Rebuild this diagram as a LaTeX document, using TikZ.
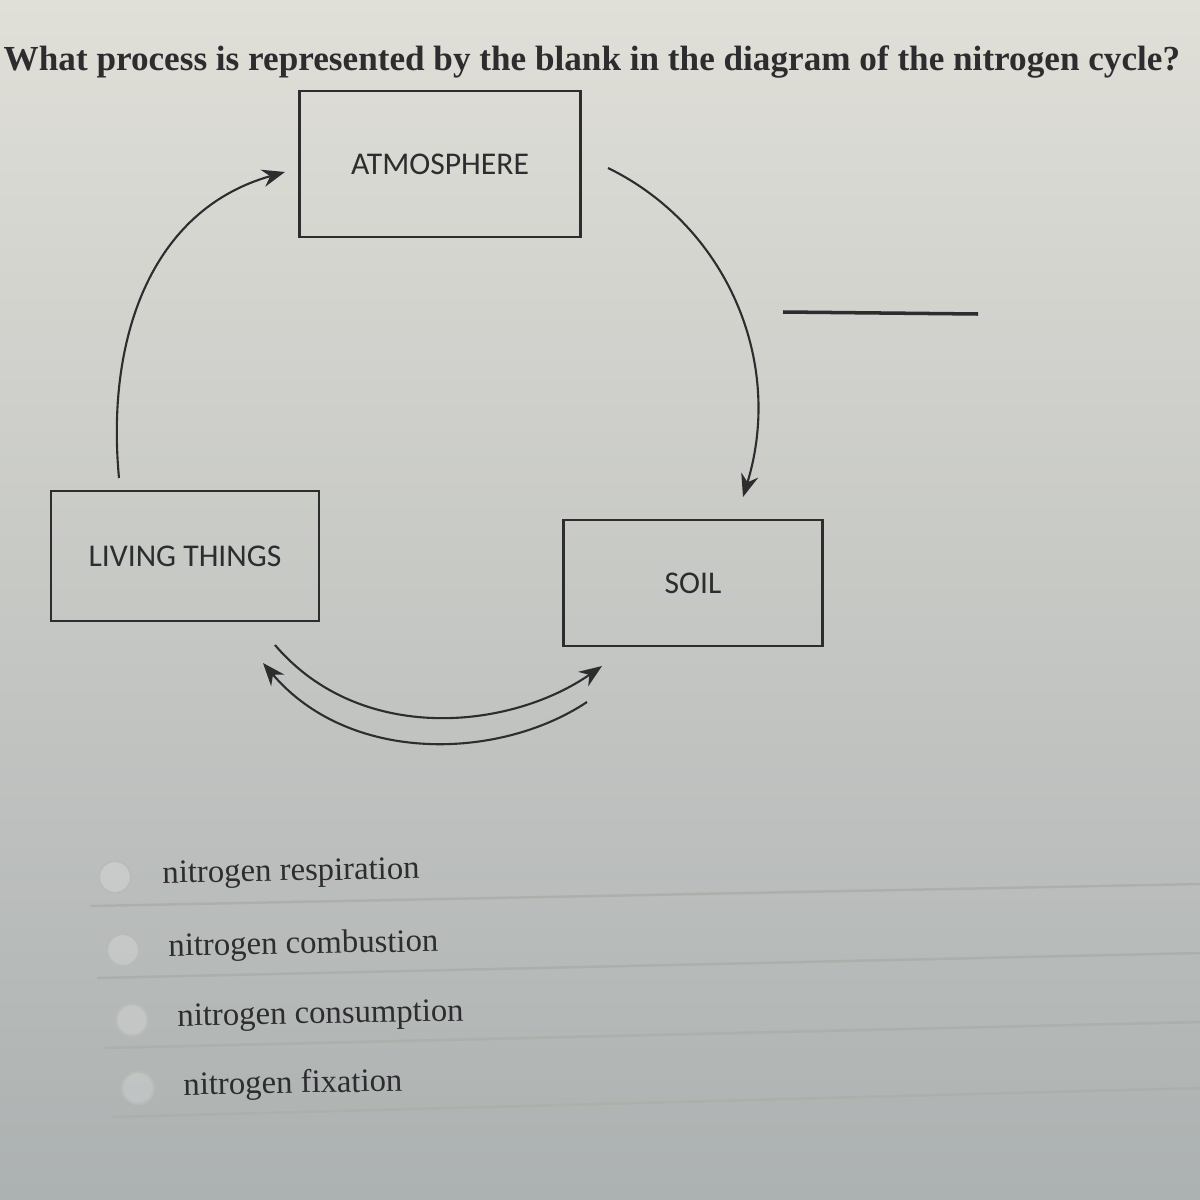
\documentclass[tikz,border=0pt]{standalone}
\usepackage{fontspec}
\setmainfont{Liberation Serif}
\newfontfamily\boxfont{Carlito}
\usetikzlibrary{arrows.meta}

\definecolor{bgtop}{RGB}{224,223,216}
\definecolor{bgmid}{RGB}{214,218,210}
\definecolor{bgbot}{RGB}{172,177,177}
\definecolor{ink}{RGB}{45,45,48}
\definecolor{rulegray}{RGB}{172,175,170}

\begin{document}
\begin{tikzpicture}[x=0.01cm, y=-0.01cm, >={Stealth[length=6.5pt,width=5pt]},
    cyclebox/.style={draw=ink, line width=0.8pt, rectangle, inner sep=0pt,
      font=\boxfont\fontsize{9}{11}\selectfont, text=ink},
    flow/.style={->, draw=ink, line width=0.6pt},
    choice/.style={anchor=base west, inner sep=0pt, rotate=1,
      font=\fontsize{9.3}{11}\selectfont, text=ink},
    radio/.style={circle, draw=rulegray!85, fill=white, fill opacity=0.2,
      line width=0.6pt, minimum size=0.32cm, inner sep=0pt}]

    % 1. Background and page size (photo of a screen, darker towards the bottom)
    \shade[top color=bgtop, middle color=bgmid, bottom color=bgbot] (0,0) rectangle (1200,1200);
    \useasboundingbox (0,0) rectangle (1200,1200);

    % 2. The question
    \node[anchor=base west, inner sep=0pt, text=ink,
      font=\bfseries\fontsize{10}{12}\selectfont] (question) at (3,70)
      {What process is represented by the blank in the diagram of the nitrogen cycle?};

    % 3. The three reservoirs
    \node[cyclebox, minimum width=2.81cm, minimum height=1.46cm] (atmos) at (440,164) {ATMOSPHERE};
    \node[cyclebox, minimum width=2.68cm, minimum height=1.30cm] (living) at (185,556) {LIVING THINGS};
    \node[cyclebox, minimum width=2.59cm, minimum height=1.26cm] (soil) at (693,583) {SOIL};

    % 4. Free ends of the arrows (next to the boxes)
    \coordinate (l1) at (119,478);
    \coordinate (a1) at (285,172);
    \coordinate (a2) at (608,168);
    \coordinate (s1) at (743,497);
    \coordinate (l2) at (275,645);
    \coordinate (s2) at (602,666);
    \coordinate (s3) at (587,702);
    \coordinate (l3) at (263,663);

    % 5. Cycle arrows
    \draw[flow] (l1) .. controls (106,340) and (150,210) .. (a1);
    \draw[flow] (a2) .. controls (725,225) and (785,360) .. (s1);
    \draw[flow] (l2) .. controls (360,745) and (510,730) .. (s2);
    \draw[flow] (s3) .. controls (500,760) and (350,765) .. (l3);

    % 6. The blank
    \coordinate (b1) at (783,312);
    \coordinate (b2) at (978,314);
    \draw[ink, line width=1pt] (b1) -- (b2);

    % 7. Separator lines under the answer choices
    \foreach \i/\lx/\ly/\rly in {1/90/906/884, 2/97/978/953, 3/105/1048/1022, 4/113/1117/1088}{
      \coordinate (sepL\i) at (\lx,\ly);
      \coordinate (sepR\i) at (1200,\rly);
      \draw[rulegray, line width=0.7pt] (sepL\i) -- (sepR\i);
    }

    % 8. Answer choices
    \foreach \i/\rx/\ry/\tx/\ty/\answer in {
        1/115/877/162/883/nitrogen respiration,
        2/123/950/168/956/nitrogen combustion,
        3/132/1020/177/1026/nitrogen consumption,
        4/138/1088/183/1095/nitrogen fixation}{
      \node[radio] (r\i) at (\rx,\ry) {};
      \node[choice] (c\i) at (\tx,\ty) {\answer};
    }

\end{tikzpicture}
\end{document}
